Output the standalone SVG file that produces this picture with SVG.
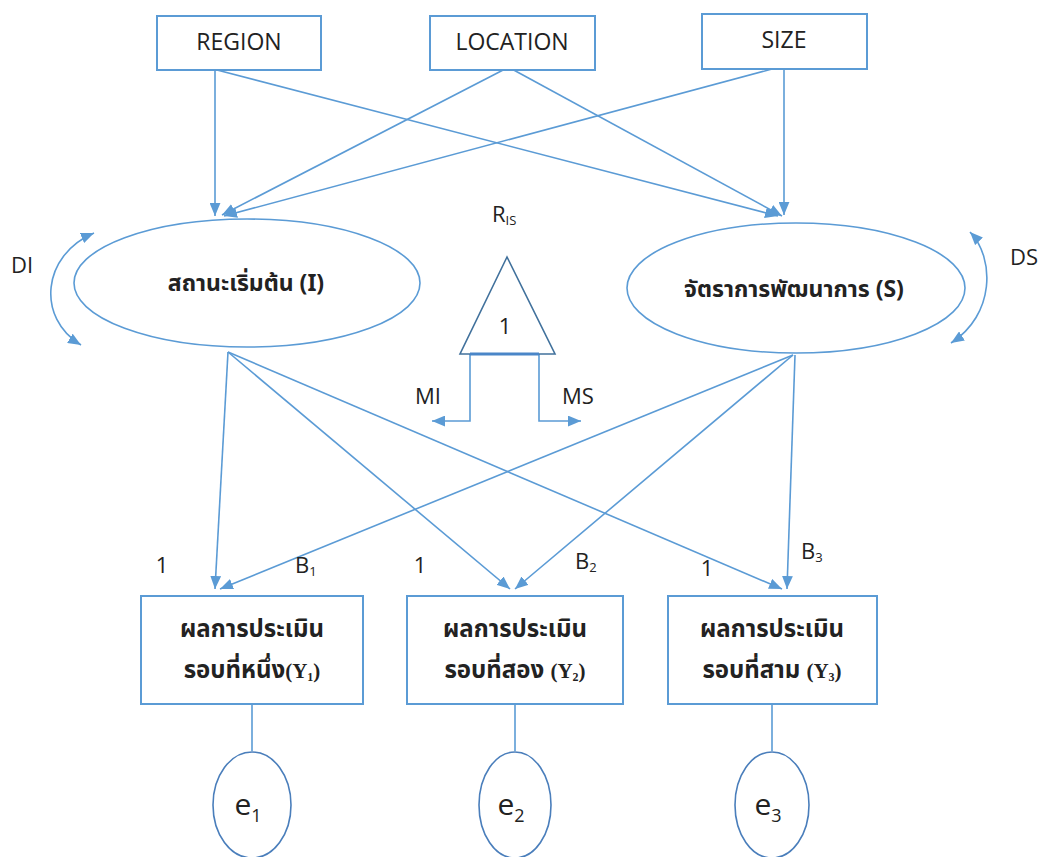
<svg xmlns="http://www.w3.org/2000/svg" width="1041" height="857" viewBox="0 0 1041 857">
<style>
.box{fill:#fff;stroke:#5b9bd5;stroke-width:2}
.ell{fill:#fff;stroke:#5b9bd5;stroke-width:1.6}
.err{fill:#fff;stroke:#4a7ebb;stroke-width:1.6}
.ln{fill:none;stroke:#5b9bd5;stroke-width:1.6}
.lbl{font-family:"Open Sans","Liberation Sans",sans-serif;font-size:22px;fill:#222}
.top{font-size:23px}
.el{font-size:30px}
.th{font-family:"Noto Sans Thai","Noto Sans","DejaVu Sans",sans-serif;font-size:23px;font-weight:bold;fill:#222}
.thb{font-size:24px}
.ser{font-family:"Liberation Serif",serif;font-weight:bold;font-size:21px}
</style>
<defs>
<marker id="ah" viewBox="0 0 12 10" refX="12" refY="5" markerWidth="13" markerHeight="11" markerUnits="userSpaceOnUse" orient="auto-start-reverse">
<path d="M0,0 L12,5 L0,10 z" fill="#5b9bd5"/>
</marker>
</defs>
<rect width="1041" height="857" fill="#fff"/>
<g id="connectors">
<path class="ln" d="M215,70 L215,216" marker-end="url(#ah)"/>
<path class="ln" d="M217,70 L778,216" marker-end="url(#ah)"/>
<path class="ln" d="M507,68 L222,215" marker-end="url(#ah)"/>
<path class="ln" d="M510,68 L782,216" marker-end="url(#ah)"/>
<path class="ln" d="M787,65 L224,216" marker-end="url(#ah)"/>
<path class="ln" d="M784,67 L784,215" marker-end="url(#ah)"/>
<path class="ln" d="M228,352 L215,589" marker-end="url(#ah)"/>
<path class="ln" d="M228,352 L510,589" marker-end="url(#ah)"/>
<path class="ln" d="M228,352 L782,589" marker-end="url(#ah)"/>
<path class="ln" d="M793,355 L220,589" marker-end="url(#ah)"/>
<path class="ln" d="M793,355 L515,589" marker-end="url(#ah)"/>
<path class="ln" d="M795,355 L787,589" marker-end="url(#ah)"/>
<path class="ln" d="M252,704 L252,751"/>
<path class="ln" d="M515,704 L515,751"/>
<path class="ln" d="M772,704 L772,751"/>
<path class="ln" d="M470,354 L470,421 L432,421" marker-end="url(#ah)"/>
<path class="ln" d="M539,354 L539,421 L581,421" marker-end="url(#ah)"/>
<path class="ln" d="M94,233 C42,255 36,318 81,345" marker-start="url(#ah)" marker-end="url(#ah)"/>
<path class="ln" d="M970,232 C995,258 995,315 951,343" marker-start="url(#ah)" marker-end="url(#ah)"/>
</g>
<g id="region"><rect class="box" x="157" y="16" width="164" height="54"/><text class="lbl top" x="239" y="50" text-anchor="middle">REGION</text></g>
<g id="location"><rect class="box" x="430" y="16" width="165" height="54"/><text class="lbl top" x="512" y="50" text-anchor="middle">LOCATION</text></g>
<g id="size"><rect class="box" x="702" y="14" width="165" height="55"/><text class="lbl top" x="784" y="48" text-anchor="middle">SIZE</text></g>
<g id="intercept"><ellipse class="ell" cx="247" cy="283" rx="173" ry="64"/><text class="th" x="246" y="291" text-anchor="middle">สถานะเริ่มต้น (I)</text></g>
<g id="slope"><ellipse class="ell" cx="796" cy="288" rx="169" ry="65"/><text class="th" x="794" y="297" text-anchor="middle">จัตราการพัฒนาการ (S)</text></g>
<g id="constant">
<polygon points="507,257 460,354 555,354" fill="#fff" stroke="#41719c" stroke-width="1.6"/>
<line x1="470" y1="354" x2="539" y2="354" stroke="#4a86c8" stroke-width="3"/>
<text class="lbl" x="505" y="334" text-anchor="middle">1</text>
</g>
<g id="labels">
<text class="lbl" x="22" y="273" text-anchor="middle">DI</text>
<text class="lbl" x="1024" y="265" text-anchor="middle">DS</text>
<text class="lbl" x="492" y="222">R<tspan font-size="13" dy="3">IS</tspan></text>
<text class="lbl" x="428" y="404" text-anchor="middle">MI</text>
<text class="lbl" x="578" y="404" text-anchor="middle">MS</text>
<text class="lbl" x="162" y="573" text-anchor="middle">1</text>
<text class="lbl" x="295" y="573">B<tspan font-size="13" dy="3">1</tspan></text>
<text class="lbl" x="420" y="573" text-anchor="middle">1</text>
<text class="lbl" x="575" y="569">B<tspan font-size="13" dy="3">2</tspan></text>
<text class="lbl" x="707" y="576" text-anchor="middle">1</text>
<text class="lbl" x="801" y="559">B<tspan font-size="13" dy="3">3</tspan></text>
</g>
<g id="y1"><rect class="box" x="141" y="596" width="222" height="108"/>
<text class="th thb" x="252" y="637" text-anchor="middle">ผลการประเมิน</text>
<text class="th thb" x="252" y="678" text-anchor="middle">รอบที่หนึ่ง<tspan class="ser">(Y<tspan font-size="12" dy="3">1</tspan><tspan dy="-3">)</tspan></tspan></text></g>
<g id="y2"><rect class="box" x="407" y="596" width="216" height="108"/>
<text class="th thb" x="515" y="637" text-anchor="middle">ผลการประเมิน</text>
<text class="th thb" x="515" y="678" text-anchor="middle">รอบที่สอง <tspan class="ser">(Y<tspan font-size="12" dy="3">2</tspan><tspan dy="-3">)</tspan></tspan></text></g>
<g id="y3"><rect class="box" x="668" y="596" width="209" height="108"/>
<text class="th thb" x="772" y="637" text-anchor="middle">ผลการประเมิน</text>
<text class="th thb" x="772" y="678" text-anchor="middle">รอบที่สาม <tspan class="ser">(Y<tspan font-size="12" dy="3">3</tspan><tspan dy="-3">)</tspan></tspan></text></g>
<g id="e1"><ellipse class="err" cx="252" cy="805" rx="39" ry="53"/><text class="lbl el" x="248" y="815" text-anchor="middle">e<tspan font-size="18" dy="7">1</tspan></text></g>
<g id="e2"><ellipse class="err" cx="515" cy="805" rx="36" ry="53"/><text class="lbl el" x="511" y="815" text-anchor="middle">e<tspan font-size="18" dy="7">2</tspan></text></g>
<g id="e3"><ellipse class="err" cx="772" cy="805" rx="37" ry="53"/><text class="lbl el" x="768" y="815" text-anchor="middle">e<tspan font-size="18" dy="7">3</tspan></text></g>
</svg>
